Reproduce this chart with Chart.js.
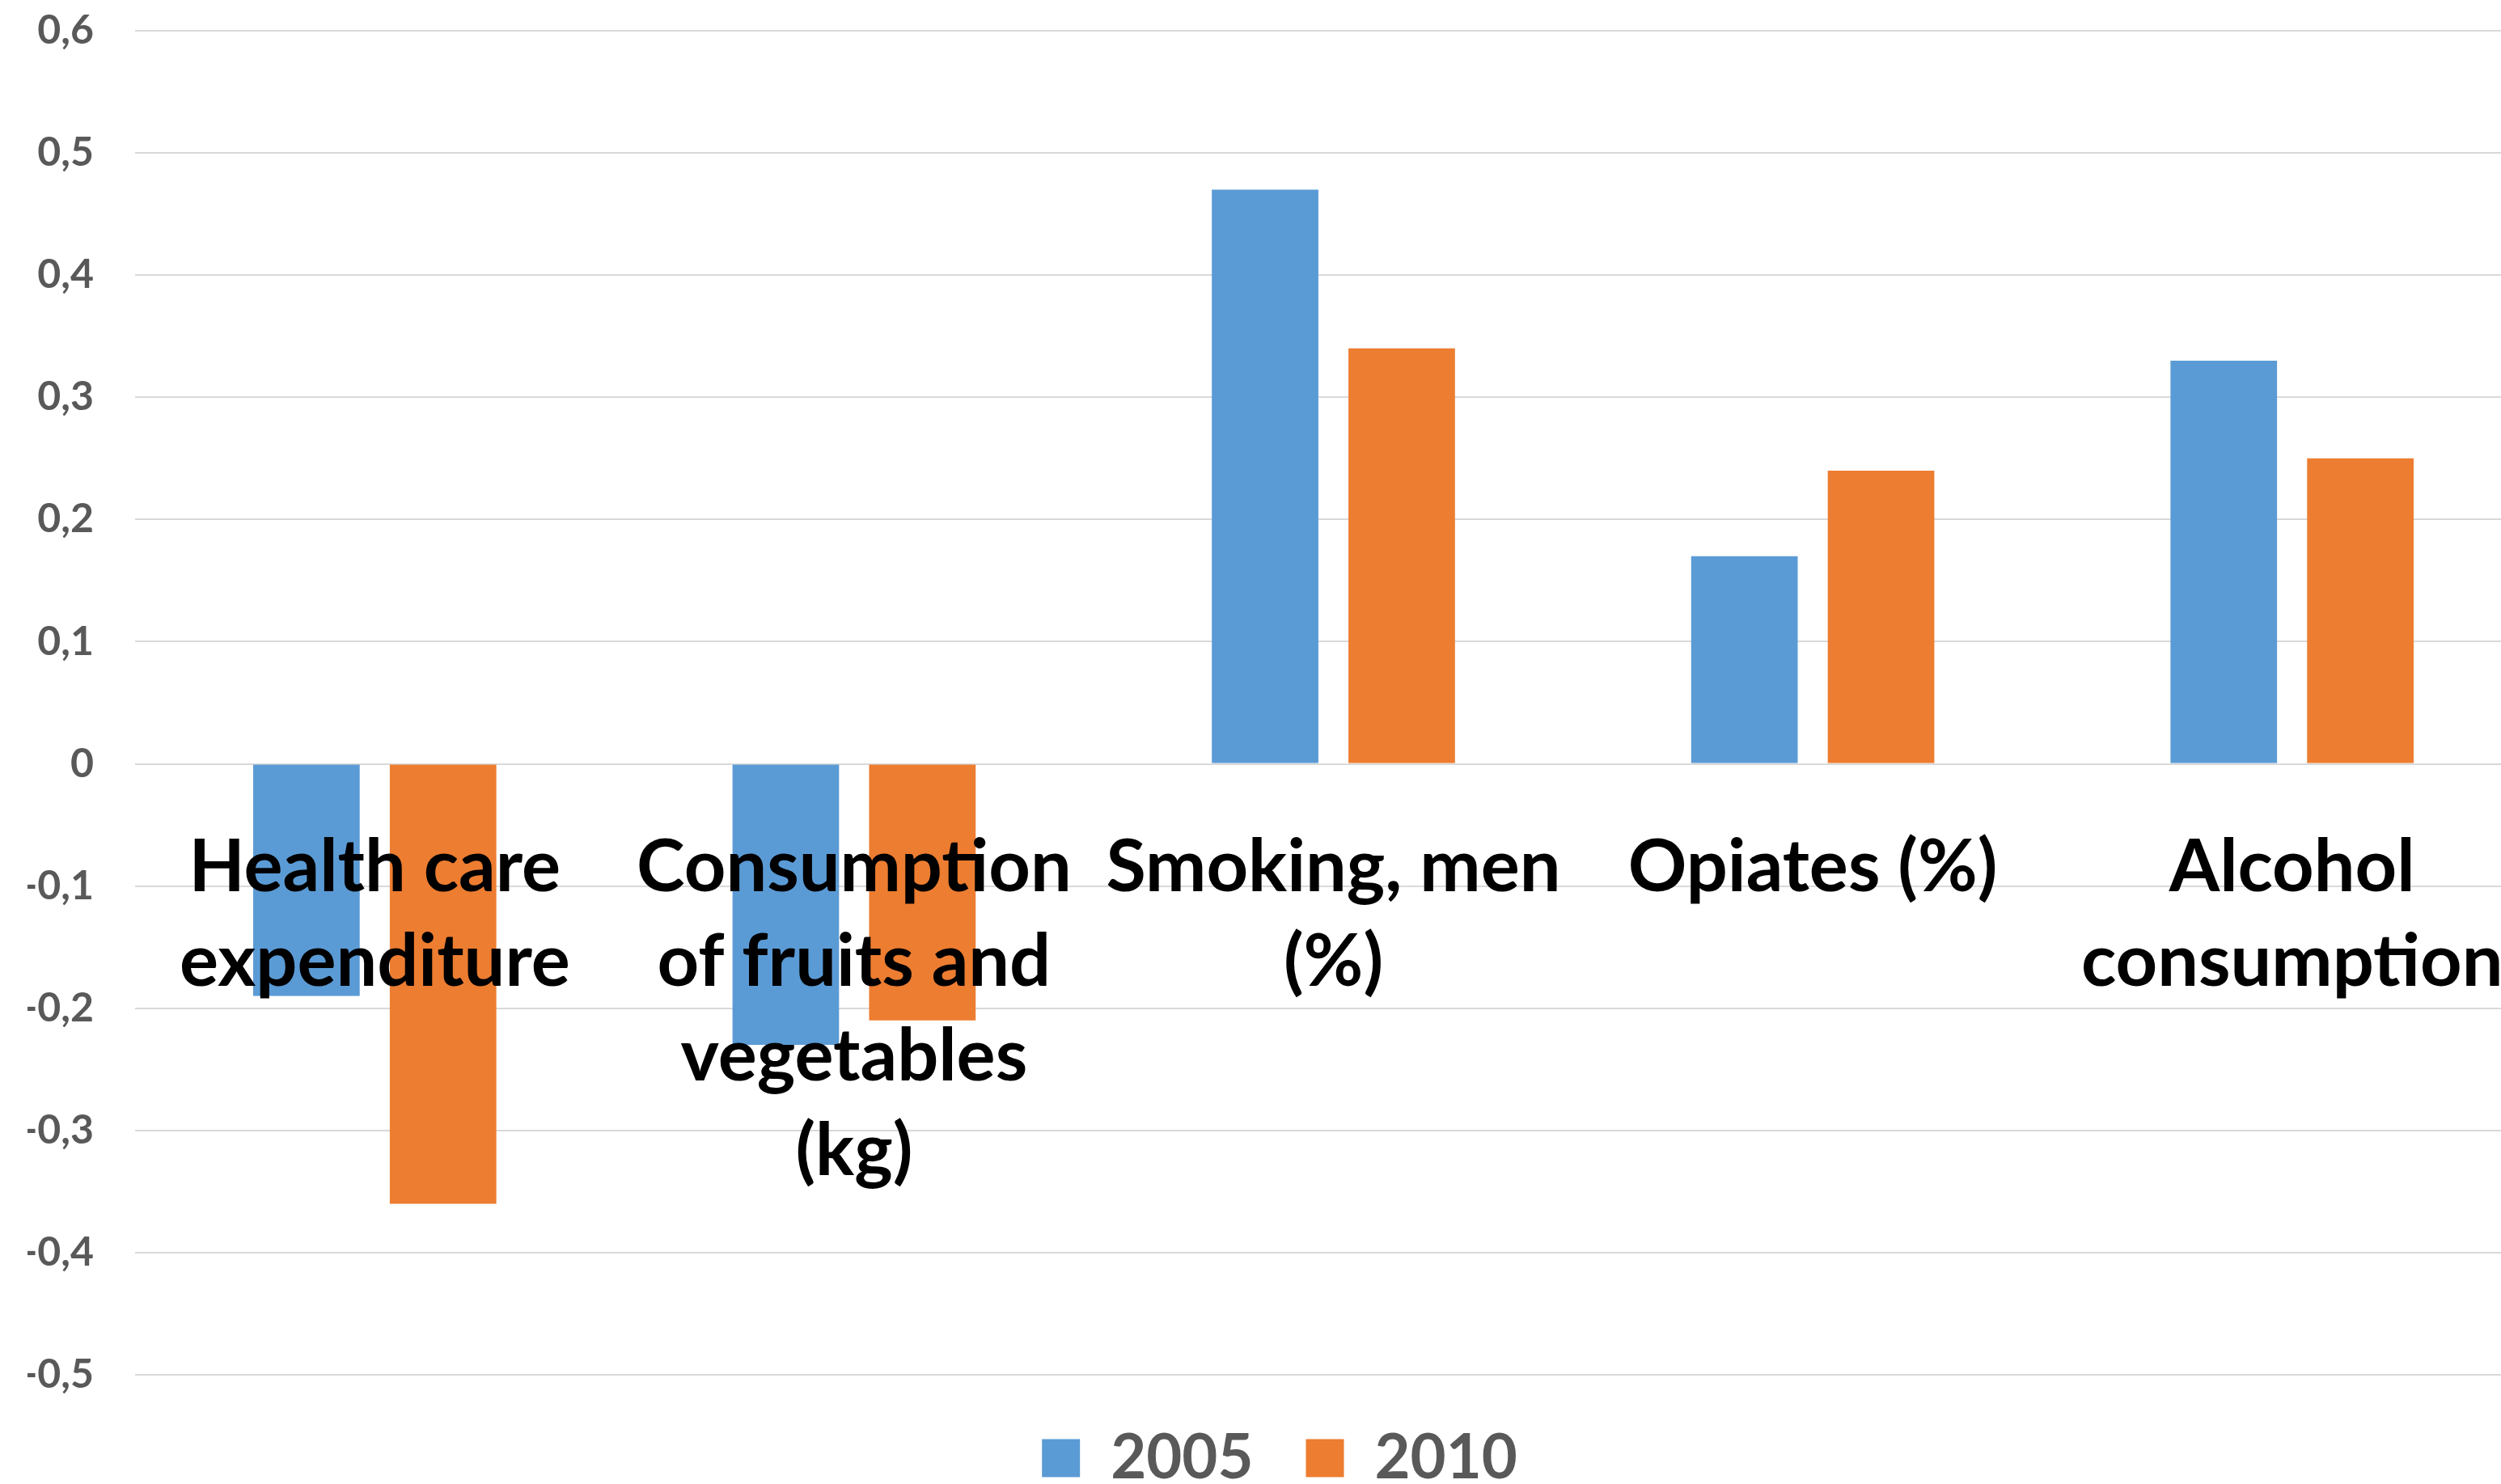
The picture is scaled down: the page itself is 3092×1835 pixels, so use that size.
<!DOCTYPE html>
<html lang="en">
<head>
    <meta charset="UTF-8">
    <title>Health indicators 2005 / 2010</title>
    <style>
        html, body {
            margin: 0;
            padding: 0;
            background: #ffffff;
        }
        #wrap {
            width: 3092px;
            height: 1835px;
            overflow: hidden;
            position: relative;
        }
        #chart {
            position: absolute;
            left: 0;
            top: 0;
        }
    </style>
</head>
<body>
    <div id="wrap">
        <canvas id="chart" width="3196" height="1851"></canvas>
    </div>

    <script src="https://cdn.jsdelivr.net/npm/chart.js"></script>
    <script>
        const categories = [
            ['Health care', 'expenditure'],
            ['Consumption', 'of fruits and', 'vegetables', '(kg)'],
            ['Smoking, men', '(%)'],
            ['Opiates (%)'],
            ['Alcohol', 'consumption']
        ];
        const values2005 = [-0.19, -0.23, 0.47, 0.17, 0.33];
        const values2010 = [-0.36, -0.21, 0.34, 0.24, 0.25];
        const yTicks = [-0.5, -0.4, -0.3, -0.2, -0.1, 0, 0.1, 0.2, 0.3, 0.4, 0.5, 0.6];
        const yTickLabels = ['-0,5', '-0,4', '-0,3', '-0,2', '-0,1', '0', '0,1', '0,2', '0,3', '0,4', '0,5', '0,6'];

        const fontFamily = 'Lato, "Open Sans", sans-serif';

        // the tick paddings would otherwise push the plot inward; layout.padding handles spacing
        function noEdgePadding(scale) {
            scale.paddingLeft = 0;
            scale.paddingRight = 0;
            scale.paddingTop = 0;
            scale.paddingBottom = 0;
        }

        const ctx = document.getElementById('chart').getContext('2d');
        new Chart(ctx, {
            type: 'bar',
            data: {
                labels: categories,
                datasets: [{
                    label: '2005',
                    data: values2005,
                    backgroundColor: '#5B9BD5',
                    categoryPercentage: 0.57,
                    barPercentage: 0.78
                }, {
                    label: '2010',
                    data: values2010,
                    backgroundColor: '#ED7D31',
                    categoryPercentage: 0.57,
                    barPercentage: 0.78
                }]
            },
            options: {
                responsive: false,
                animation: false,
                layout: {
                    padding: { left: 34, right: 66, top: 38, bottom: 0 }
                },
                plugins: {
                    tooltip: { enabled: false },
                    legend: {
                        position: 'bottom',
                        labels: {
                            color: '#595959',
                            boxWidth: 47,
                            boxHeight: 47,
                            padding: 65,
                            font: { family: fontFamily, size: 76, weight: 'bold' }
                        }
                    }
                },
                scales: {
                    x: {
                        // category names sit just under the zero line, drawn over the bars
                        position: { y: 0 },
                        border: { display: false },
                        grid: { display: false, drawTicks: false },
                        afterFit: noEdgePadding,
                        ticks: {
                            z: 1,
                            color: '#000000',
                            padding: 70,
                            autoSkip: false,
                            maxRotation: 0,
                            minRotation: 0,
                            font: { family: fontFamily, size: 90, weight: 'bold', lineHeight: 1.3 }
                        }
                    },
                    y: {
                        min: -0.5,
                        max: 0.6,
                        border: { display: false },
                        grid: { color: '#D9D9D9', lineWidth: 2, drawTicks: false },
                        afterBuildTicks: function(scale) {
                            scale.ticks = yTicks.map(v => ({ value: v }));
                        },
                        afterFit: function(scale) {
                            noEdgePadding(scale);
                            scale.width = 133;
                        },
                        ticks: {
                            color: '#595959',
                            padding: 51,
                            font: { family: fontFamily, size: 50, weight: 'bold' },
                            callback: function(value, index) {
                                return yTickLabels[index];
                            }
                        }
                    }
                }
            }
        });
    </script>
</body>
</html>
